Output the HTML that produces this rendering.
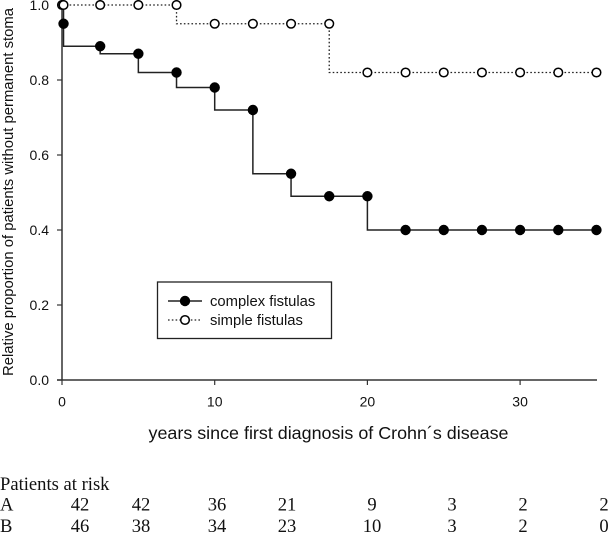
<!DOCTYPE html>
<html>
<head>
<meta charset="utf-8">
<style>
html,body{margin:0;padding:0;background:#fff;width:608px;height:533px;overflow:hidden}
svg{display:block}
text{font-family:"Liberation Sans",sans-serif;fill:#111}
.serif{font-family:"Liberation Serif",serif;font-size:18.6px;fill:#111}
</style>
</head>
<body>
<svg id="chart" width="608" height="533" viewBox="0 0 608 533" xmlns="http://www.w3.org/2000/svg"></svg>
<script>
const complexTimes = [0.1, 2.5, 5, 7.5, 10, 12.5, 15, 17.5, 20, 22.5, 25, 27.5, 30, 32.5, 35];
const complexValues = [0.95, 0.89, 0.87, 0.82, 0.78, 0.72, 0.55, 0.49, 0.49, 0.40, 0.40, 0.40, 0.40, 0.40, 0.40];
const simpleTimes = [0, 0.1, 2.5, 5, 7.5, 10, 12.5, 15, 17.5, 20, 22.5, 25, 27.5, 30, 32.5, 35];
const simpleValues = [1.0, 1.0, 1.0, 1.0, 1.0, 0.95, 0.95, 0.95, 0.95, 0.82, 0.82, 0.82, 0.82, 0.82, 0.82, 0.82];
const xTicks = [0, 10, 20, 30];
const yTicks = [0.0, 0.2, 0.4, 0.6, 0.8, 1.0];
const riskHeader = 'Patients at risk';
const riskA = ['42', '42', '36', '21', '9', '3', '2', '2'];
const riskB = ['46', '38', '34', '23', '10', '3', '2', '0'];

const NS = 'http://www.w3.org/2000/svg';
const svg = document.getElementById('chart');
const xScale = t => 62 + t * 15.27;
const yScale = v => 380 - v * 375;
const axisColor = '#333';

function make(tag, attrs, text) {
  const el = document.createElementNS(NS, tag);
  for (const k in attrs) el.setAttribute(k, attrs[k]);
  if (text !== undefined) el.textContent = text;
  svg.appendChild(el);
  return el;
}

/* Step path: drops at the time of the previous marker, held to the next marker */
function stepPath(times, values) {
  let d = 'M' + xScale(times[0]) + ' ' + yScale(values[0]);
  for (let i = 1; i < times.length; i++) {
    d += 'V' + yScale(values[i]) + 'H' + xScale(times[i]);
  }
  return d;
}

/* Axes */
const yAxis = make('line', {x1: 62, y1: yScale(1), x2: 62, y2: yScale(0), stroke: axisColor, 'stroke-width': 1.5});


const xAxis = make('line', {x1: 57, y1: yScale(0), x2: 597, y2: yScale(0), stroke: axisColor, 'stroke-width': 1.5});



yTicks.forEach(v => {
  const t = make('line', {x1: 57, x2: 62, y1: yScale(v), y2: yScale(v), stroke: axisColor, 'stroke-width': 1.2});
  
  
  const l = make('text', {x: 49, y: yScale(v) + 5, 'text-anchor': 'end', 'font-size': 14}, v.toFixed(1));
  
  
});
xTicks.forEach(v => {
  const t = make('line', {x1: xScale(v), x2: xScale(v), y1: 380, y2: 385, stroke: axisColor, 'stroke-width': 1.2});
  
  
  const l = make('text', {x: xScale(v), y: 406.5, 'text-anchor': 'middle', 'font-size': 14}, String(v));
  
  
});

const yTitle = make('text', {transform: 'translate(13,192) rotate(-90)', 'text-anchor': 'middle', 'font-size': 14.85}, 'Relative proportion of patients without permanent stoma');


const xTitle = make('text', {x: 328.5, y: 439, 'text-anchor': 'middle', 'font-size': 17.9}, 'years since first diagnosis of Crohn\u00B4s disease');



/* Series: simple fistulas */
const simpleLine = make('path', {d: stepPath(simpleTimes, simpleValues), fill: 'none', stroke: '#222', 'stroke-width': 1.3, 'stroke-dasharray': '1.6 2.2'});



/* Series: complex fistulas */
const complexLine = make('path', {d: 'M' + xScale(complexTimes[0]) + ' ' + yScale(1) + stepPath(complexTimes, complexValues).replace(/^M[^V]*/, ''), fill: 'none', stroke: '#222', 'stroke-width': 1.5});



complexTimes.forEach((t, i) => {
  const c = make('circle', {cx: xScale(t), cy: yScale(complexValues[i]), r: 5.2, fill: '#000'});
  
  
});
simpleTimes.forEach((t, i) => {
  const c = make('circle', {cx: xScale(t), cy: yScale(simpleValues[i]), r: 4.3, fill: '#fff', stroke: '#000', 'stroke-width': 1.5});
  
  
});

/* Legend */
const legendBox = make('rect', {x: 157.5, y: 282, width: 174, height: 56.5, fill: '#fff', stroke: '#222', 'stroke-width': 1.3});


const legendLine1 = make('line', {x1: 168, x2: 202, y1: 301, y2: 301, stroke: '#222', 'stroke-width': 1.5});


const legendDot1 = make('circle', {cx: 185, cy: 301, r: 5.2, fill: '#000'});


const legendText1 = make('text', {x: 210, y: 306, 'font-size': 14.8}, 'complex fistulas');


const legendLine2 = make('line', {x1: 168, x2: 202, y1: 320, y2: 320, stroke: '#222', 'stroke-width': 1.3, 'stroke-dasharray': '1.6 2.2'});


const legendDot2 = make('circle', {cx: 185, cy: 320, r: 4.3, fill: '#fff', stroke: '#000', 'stroke-width': 1.5});


const legendText2 = make('text', {x: 210, y: 325, 'font-size': 14.8}, 'simple fistulas');



/* Risk table */
const riskCols = [80, 141, 217, 287, 372, 452, 523, 604];
const header = make('text', {x: 0, y: 490, class: 'serif'}, riskHeader);


[['A', riskA, 510.5], ['B', riskB, 532]].forEach(row => {
  const lab = make('text', {x: 0, y: row[2], class: 'serif'}, row[0]);
  
  
  row[1].forEach((val, i) => {
    const cell = make('text', {x: riskCols[i], y: row[2], class: 'serif', 'text-anchor': 'middle'}, val);
    
    
  });
});
</script>
</body>
</html>
